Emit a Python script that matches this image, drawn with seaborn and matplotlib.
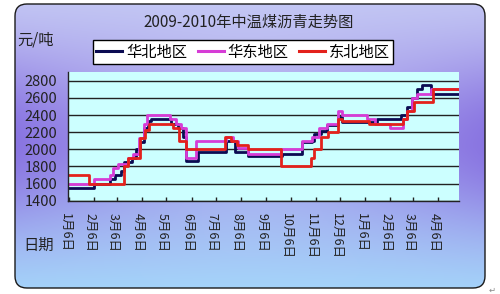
import numpy as np
import pandas as pd
import matplotlib
matplotlib.use("Agg")
import matplotlib.pyplot as plt
import matplotlib.transforms as mtransforms
from matplotlib.patches import FancyBboxPatch
import seaborn as sns

plt.rcParams['font.family'] = ['Noto Sans CJK SC', 'DejaVu Sans']

# ---------------- data ----------------
title = "2009-2010年中温煤沥青走势图"
y_unit = "元/吨"
x_name = "日期"
regions = ["华北地区", "华东地区", "东北地区"]
colors = ["#0b0b52", "#d63cd6", "#e3211c"]

huabei_dates = ["2009-01-05", "2009-02-06", "2009-02-25", "2009-03-03", "2009-03-11",
                "2009-03-15", "2009-03-24", "2009-03-30", "2009-04-03", "2009-04-08",
                "2009-04-13", "2009-04-17", "2009-05-12", "2009-05-20", "2009-05-26",
                "2009-05-30", "2009-06-14", "2009-07-19", "2009-07-29", "2009-08-14",
                "2009-09-26", "2009-10-20", "2009-11-01", "2009-11-04", "2009-11-12",
                "2009-11-20", "2009-12-03", "2009-12-09", "2010-01-21", "2010-02-19",
                "2010-02-27", "2010-03-05", "2010-03-11", "2010-03-17", "2010-03-28",
                "2010-05-02"]
huabei_values = [1550, 1600, 1650, 1700, 1750,
                 1850, 1900, 2000, 2080, 2250,
                 2330, 2350, 2300, 2250, 2150,
                 1860, 1970, 2100, 1970, 1920,
                 1940, 2080, 2100, 2180, 2220,
                 2280, 2380, 2320, 2350, 2400,
                 2500, 2600, 2700, 2750, 2650,
                 2650]

huadong_dates = ["2009-01-05", "2009-02-06", "2009-02-25", "2009-03-01", "2009-03-07",
                 "2009-03-19", "2009-03-26", "2009-04-02", "2009-04-08", "2009-04-12",
                 "2009-05-10", "2009-05-18", "2009-05-24", "2009-05-30", "2009-06-12",
                 "2009-07-19", "2009-07-27", "2009-08-02", "2009-08-14", "2009-09-24",
                 "2009-10-20", "2009-11-01", "2009-11-10", "2009-11-20", "2009-12-03",
                 "2009-12-09", "2010-01-08", "2010-01-18", "2010-02-05", "2010-02-21",
                 "2010-02-27", "2010-03-05", "2010-03-11", "2010-03-28", "2010-05-02"]
huadong_values = [1600, 1650, 1700, 1780, 1830,
                  1900, 1950, 2130, 2300, 2400,
                  2350, 2300, 2250, 1900, 2100,
                  2150, 2100, 2020, 1940, 2000,
                  2100, 2150, 2250, 2300, 2450,
                  2400, 2350, 2300, 2250, 2350,
                  2450, 2600, 2650, 2700, 2700]

dongbei_dates = ["2009-01-05", "2009-01-31", "2009-03-15", "2009-03-19", "2009-04-03",
                 "2009-04-09", "2009-04-15", "2009-05-14", "2009-05-22", "2009-05-30",
                 "2009-07-17", "2009-07-25", "2009-08-01", "2009-08-14", "2009-09-24",
                 "2009-10-31", "2009-11-04", "2009-11-12", "2009-11-21", "2009-12-03",
                 "2009-12-09", "2010-01-11", "2010-02-21", "2010-02-27", "2010-03-07",
                 "2010-03-30", "2010-05-02"]
dongbei_values = [1700, 1600, 1800, 1900, 2130,
                  2230, 2300, 2250, 2100, 2000,
                  2150, 2100, 2050, 2000, 1800,
                  1900, 2000, 2150, 2200, 2350,
                  2330, 2300, 2350, 2450, 2550,
                  2700, 2700]

tick_dates = ["2009-01-06", "2009-02-06", "2009-03-06", "2009-04-06", "2009-05-06",
              "2009-06-06", "2009-07-06", "2009-08-06", "2009-09-06", "2009-10-06",
              "2009-11-06", "2009-12-06", "2010-01-06", "2010-02-06", "2010-03-06",
              "2010-04-06"]
tick_labels = ["1月6日", "2月6日", "3月6日", "4月6日", "5月6日", "6月6日", "7月6日",
               "8月6日", "9月6日", "10月6日", "11月6日", "12月6日", "1月6日", "2月6日",
               "3月6日", "4月6日"]
y_ticks = [1400, 1600, 1800, 2000, 2200, 2400, 2600, 2800]

frames = []
for name, ds, vs in zip(regions,
                        [huabei_dates, huadong_dates, dongbei_dates],
                        [huabei_values, huadong_values, dongbei_values]):
    frames.append(pd.DataFrame({"date": pd.to_datetime(ds), "price": vs, "region": name}))
df = pd.concat(frames, ignore_index=True)

# ---------------- figure ----------------
W, H = 500, 294
fig = plt.figure(figsize=(W / 100, H / 100), dpi=100)
fig.patch.set_facecolor("white")

# background rounded panel with gradient
ax_bg = fig.add_axes([0, 0, 1, 1])
ax_bg.set_xlim(0, W)
ax_bg.set_ylim(0, H)
ax_bg.axis("off")
v = np.linspace(0, 1, H)[:, None]
u = np.linspace(0, 1, W)[None, :]
top = np.array([196, 200, 244.0])
mid = np.array([168, 160, 236.0])
bot = np.array([164, 214, 250.0])
t1 = np.clip(v / 0.5, 0, 1)[..., None]
t2 = np.clip((v - 0.5) / 0.5, 0, 1)[..., None]
base = np.where(v[..., None] < 0.5, top + (mid - top) * t1, mid + (bot - mid) * t2)
base = np.broadcast_to(base, (H, W, 3))
edge = (np.abs(u - 0.5) * 2) ** 1.5 * np.exp(-((v - 0.48) / 0.27) ** 2)
purple = np.array([128, 104, 222.0])
img = base * (1 - 0.85 * edge[..., None]) + purple * 0.85 * edge[..., None]
im = ax_bg.imshow(img / 255.0, extent=[0, W, 0, H], origin="upper", aspect="auto")
panel = FancyBboxPatch((15, 6), 470, 284, boxstyle="round,pad=0,rounding_size=12",
                       facecolor="none", edgecolor="#1a1a1a", linewidth=1.0)
ax_bg.add_patch(panel)
im.set_clip_path(panel)

# main plot area
ax = fig.add_axes([68.3 / W, 1 - 200.7 / H, (459.3 - 68.3) / W, (200.7 - 72.3) / H])
ax.set_facecolor("#ccffff")

sns.lineplot(data=df, x="date", y="price", hue="region", hue_order=regions,
             palette=colors, drawstyle="steps-post", linewidth=2.0,
             estimator=None, sort=True, ax=ax)

ax.set_xlim(pd.Timestamp("2009-01-05"), pd.Timestamp("2010-05-02"))
ax.set_ylim(1400, 2900)
ax.set_yticks(y_ticks)
ax.set_yticklabels([str(t) for t in y_ticks], fontsize=10.5, color="#222222")
ax.set_xticks(pd.to_datetime(tick_dates))
ax.set_xticklabels(tick_labels, rotation=-90, fontsize=9, color="#222222",
                   ha="center", va="top")
ax.tick_params(axis="y", length=0, pad=8)
ax.tick_params(axis="x", direction="in", length=3, width=1, color="#222222", pad=9)
offset = mtransforms.ScaledTranslation(-0.04, 0, fig.dpi_scale_trans)
for lbl in ax.get_xticklabels():
    lbl.set_transform(lbl.get_transform() + offset)

ax.yaxis.grid(True, color="#222222", linewidth=1.0)
ax.xaxis.grid(False)
ax.set_axisbelow(True)
for s in ["top", "right"]:
    ax.spines[s].set_visible(False)
for s in ["left", "bottom"]:
    ax.spines[s].set_color("#222222")
    ax.spines[s].set_linewidth(1.0)
ax.set_xlabel("")
ax.set_ylabel("")

handles, labels = ax.get_legend_handles_labels()
if ax.get_legend() is not None:
    ax.get_legend().remove()
leg = fig.legend(handles, labels, loc="center", bbox_to_anchor=(0.486, 0.823),
                 ncol=3, frameon=True, fancybox=False, edgecolor="black",
                 framealpha=1, fontsize=11, handlelength=1.7, handletextpad=0.25,
                 columnspacing=0.7, borderpad=0.2)
leg.get_frame().set_linewidth(1.0)
for line in leg.get_lines():
    line.set_linewidth(2.2)

fig.text(0.498, 0.926, title, ha="center", va="center", fontsize=11, color="#222222")
fig.text(0.034, 0.864, y_unit, ha="left", va="center", fontsize=11, color="#222222")
fig.text(0.078, 0.167, x_name, ha="center", va="center", fontsize=11, color="#222222")
fig.text(0.984, 0.012, "↵", ha="center", va="center", fontsize=6, color="#888888")

fig.savefig("out.png", dpi=100)
